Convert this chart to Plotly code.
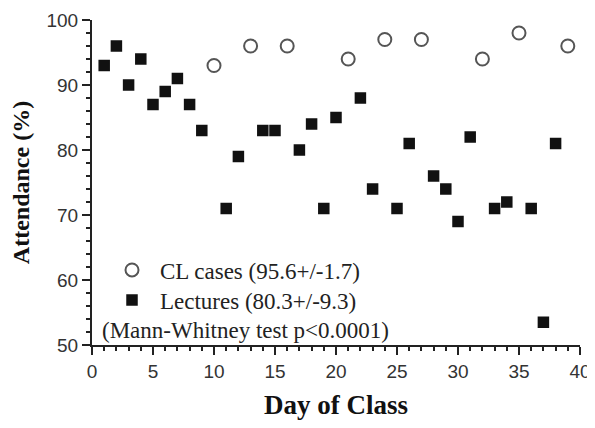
import plotly.graph_objects as go

# CL case days and attendance (%)
cl_days = [10, 13, 16, 21, 24, 27, 32, 35, 39]
cl_attendance = [93, 96, 96, 94, 97, 97, 94, 98, 96]

# Lecture days and attendance (%)
lecture_days = [1, 2, 3, 4, 5, 6, 7, 8, 9, 11, 12, 14, 15, 17, 18, 19, 20, 22, 23,
                25, 26, 28, 29, 30, 31, 33, 34, 36, 37, 38]
lecture_attendance = [93, 96, 90, 94, 87, 89, 91, 87, 83, 71, 79, 83, 83, 80, 84, 71, 85, 88, 74,
                      71, 81, 76, 74, 69, 82, 71, 72, 71, 53.5, 81]

cl_label = "CL cases (95.6+/-1.7)"
lecture_label = "Lectures (80.3+/-9.3)"
note_text = "(Mann-Whitney test p<0.0001)"
x_title = "Day of Class"
y_title = "Attendance (%)"

legend_font = dict(family="Liberation Serif", size=23, color="#222")

fig = go.Figure()
fig.add_trace(go.Scatter(
    x=cl_days, y=cl_attendance, mode="markers", name=cl_label, legend="legend",
    marker=dict(symbol="circle-open", size=13, color="#555", line=dict(width=2, color="#555")),
))
fig.add_trace(go.Scatter(
    x=lecture_days, y=lecture_attendance, mode="markers", name=lecture_label, legend="legend2",
    marker=dict(symbol="square", size=11.5, color="#111"),
))

fig.add_annotation(
    text=note_text, xref="paper", yref="paper", x=0.016, y=0.046,
    xanchor="left", yanchor="middle", showarrow=False,
    font=legend_font,
)

axis_common = dict(
    showline=True, linecolor="#222", linewidth=2, showgrid=False, zeroline=False,
    ticks="outside", tickcolor="#222", tickwidth=1.5, ticklen=8,
    tickfont=dict(family="Liberation Sans", size=19, color="#333"),
    mirror=False, automargin=False,
)

fig.update_xaxes(
    range=[0, 40], tickvals=[0, 5, 10, 15, 20, 25, 30, 35, 40],
    minor=dict(dtick=1, ticks="outside", ticklen=4, tickcolor="#222", tickwidth=1.5),
    title=dict(text=x_title, font=dict(family="Liberation Serif", size=27, color="#111", weight="bold"),
               standoff=14),
    **axis_common,
)
fig.update_yaxes(
    range=[50, 100], tickvals=[50, 60, 70, 80, 90, 100],
    minor=dict(dtick=2, ticks="outside", ticklen=4, tickcolor="#222", tickwidth=1.5),
    title=dict(text=y_title, font=dict(family="Liberation Serif", size=24, color="#111", weight="bold"),
               standoff=14),
    **axis_common,
)

legend_common = dict(
    xanchor="left", yanchor="middle", font=legend_font,
    bgcolor="rgba(0,0,0,0)", itemwidth=46, borderwidth=0,
)

# The page body adds an 8px margin, so the figure is drawn 8px smaller
fig.update_layout(
    width=587, height=420,
    margin=dict(l=84, r=15, t=12, b=83),
    paper_bgcolor="white", plot_bgcolor="white",
    showlegend=True,
    legend=dict(x=0.0246, y=0.2308, **legend_common),
    legend2=dict(x=0.0246, y=0.1385, **legend_common),
)

fig.write_html("out.html")
